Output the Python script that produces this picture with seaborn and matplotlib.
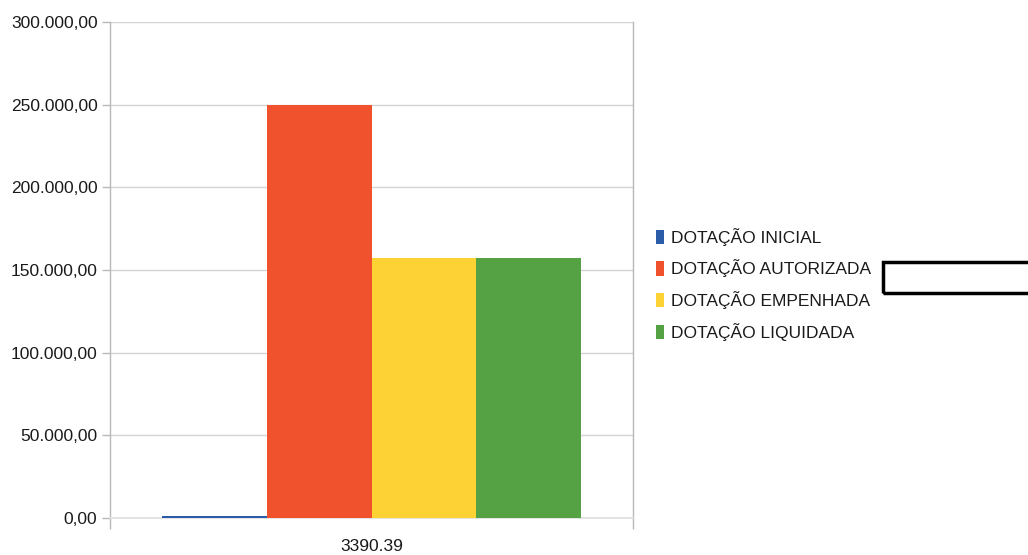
import matplotlib
matplotlib.use("Agg")
import matplotlib.pyplot as plt
import matplotlib.patches as mpatches
from matplotlib.ticker import FuncFormatter, FixedLocator
import seaborn as sns
import pandas as pd

# Budget figures for element 3390.39
categories = ["3390.39"]
series = ["DOTAÇÃO INICIAL", "DOTAÇÃO AUTORIZADA", "DOTAÇÃO EMPENHADA", "DOTAÇÃO LIQUIDADA"]
values = [1500.00, 250000.00, 157000.00, 157000.00]
colors = ["#2a5ca8", "#ef522c", "#fdd235", "#55a244"]
y_ticks = [0, 50000, 100000, 150000, 200000, 250000, 300000]

df = pd.DataFrame({
    "categoria": categories * len(series),
    "serie": series,
    "valor": values,
})

sns.set_theme(style="white")
plt.rcParams["font.family"] = ["Liberation Sans Narrow", "Liberation Sans", "DejaVu Sans"]

fig = plt.figure(figsize=(10.28, 5.55), dpi=100)
ax = fig.add_axes([0.107, 0.0667, 0.5088, 0.8937])

sns.barplot(data=df, x="categoria", y="valor", hue="serie", hue_order=series,
            palette=colors, width=0.8, saturation=1, ax=ax, legend=False,
            linewidth=0, zorder=3)

ax.set_ylim(0, 300000)
ax.set_xlim(-0.5, 0.5)
ax.yaxis.set_major_locator(FixedLocator(y_ticks))


def br_fmt(v, _pos):
    s = f"{v:,.2f}"
    return s.replace(",", "X").replace(".", ",").replace("X", ".")


ax.yaxis.set_major_formatter(FuncFormatter(br_fmt))
ax.grid(axis="y", color="#d4d4d4", linewidth=1, zorder=0)
ax.set_axisbelow(True)
ax.set_xlabel("")
ax.set_ylabel("")

for side in ["left", "right"]:
    ax.spines[side].set_color("#b8b8b8")
    ax.spines[side].set_linewidth(1)
ax.spines["top"].set_visible(False)
ax.spines["bottom"].set_color("#e0e0e0")

ax.tick_params(axis="y", which="major", length=6, width=1, color="#b8b8b8",
               labelsize=12.5, labelcolor="#1a1a1a", pad=3, left=True)
ax.tick_params(axis="x", which="major", length=0, labelsize=12.5,
               labelcolor="#1a1a1a", pad=15)
ax.xaxis.set_minor_locator(FixedLocator([-0.5, 0.5]))
ax.tick_params(axis="x", which="minor", length=8, width=1, color="#b8b8b8",
               bottom=True)

handles = [mpatches.Patch(facecolor=c, edgecolor="none", label=s)
           for c, s in zip(colors, series)]
fig.legend(handles=handles, loc="upper left", bbox_to_anchor=(0.631, 0.602),
           frameon=False, fontsize=12.5, labelcolor="#1a1a1a",
           handlelength=0.5, handleheight=0.9,
           handletextpad=0.4, labelspacing=0.79, borderaxespad=0)

# Empty text box to the right of the legend
fig.patches.append(mpatches.Rectangle((883 / 1028, 1 - 293 / 555), 150 / 1028, 31 / 555,
                                      transform=fig.transFigure, fill=False,
                                      edgecolor="black", linewidth=2.5))

fig.savefig("out.png", dpi=100, facecolor="white")
